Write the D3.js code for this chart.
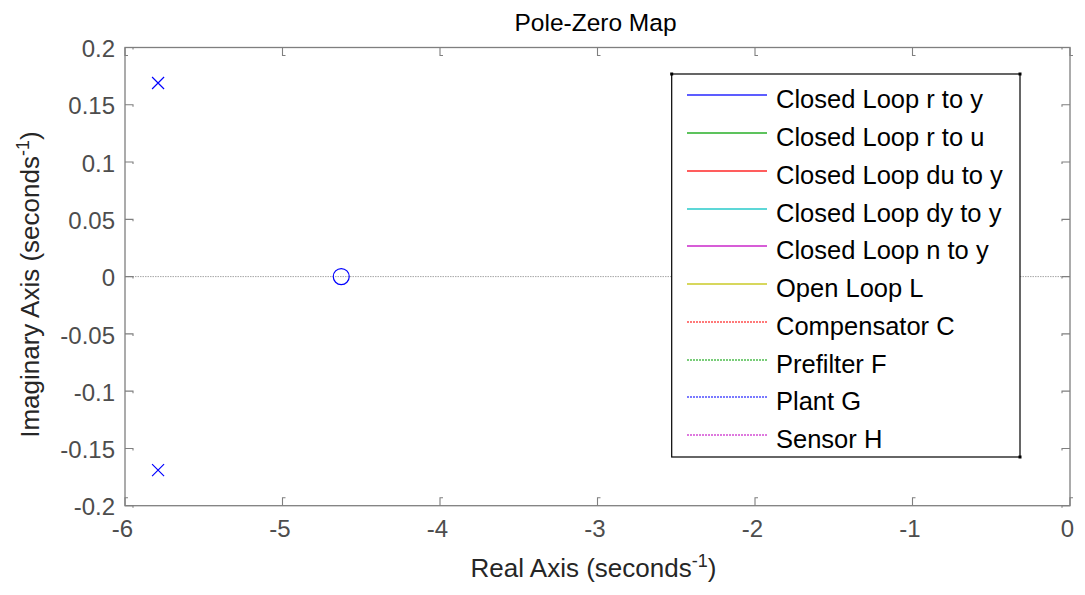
<!DOCTYPE html>
<html>
<head>
<meta charset="utf-8">
<script src="https://cdn.jsdelivr.net/npm/d3@7"></script>
<style>
  html, body { margin: 0; padding: 0; background: #fff; }
  svg { display: block; font-family: "Liberation Sans", Arial, sans-serif; }
</style>
</head>
<body>
<svg id="chart" width="1085" height="595"></svg>
<script>
// Pole-zero data (real, imaginary)
const poles = [
  { re: -5.79, im: 0.169 },
  { re: -5.79, im: -0.169 }
];
const zeros = [
  { re: -4.627, im: 0 }
];

// Axis ticks
const xTicks = [-6, -5, -4, -3, -2, -1, 0];
const yTicks = [-0.2, -0.15, -0.1, -0.05, 0, 0.05, 0.1, 0.15, 0.2];

// Legend entries
const legendLabels = [
  "Closed Loop r to y", "Closed Loop r to u", "Closed Loop du to y",
  "Closed Loop dy to y", "Closed Loop n to y", "Open Loop L",
  "Compensator C", "Prefilter F", "Plant G", "Sensor H"
];
const legendColors = [
  "#0000ff", "#00a000", "#ff0000", "#00bfbf", "#bf00bf", "#bfbf00",
  "#ff0000", "#00a000", "#0000ff", "#bf00bf"
];
const legendDotted = [false, false, false, false, false, false, true, true, true, true];

(function draw() {
  const svg = d3.select("#chart");
  const pL = 125, pR = 1070, pT = 47.5, pB = 505.7;

  const x = d3.scaleLinear().domain([-6, 0]).range([pL, pR]);
  const y = d3.scaleLinear().domain([-0.2, 0.2]).range([pB, pT]);

  const axisColor = "#7f7f7f";
  const tickTextColor = "#4d4d4d";

  // Zero line on the real axis
  svg.append("line")
    .attr("x1", pL).attr("x2", pR)
    .attr("y1", y(0)).attr("y2", y(0))
    .attr("stroke", "#a6a6a6").attr("stroke-width", 1)
    .attr("stroke-dasharray", "1.5,1");

  // Axis frame
  svg.append("rect")
    .attr("x", pL).attr("y", pT)
    .attr("width", pR - pL).attr("height", pB - pT)
    .attr("fill", "none").attr("stroke", axisColor).attr("stroke-width", 1.3);

  // Ticks on all four sides
  const tk = 8;
  const tickG = svg.append("g").attr("stroke", axisColor).attr("stroke-width", 1.1).attr("fill", "none");
  xTicks.forEach(v => {
    const px = x(v);
    tickG.append("path").attr("d", `M${px},${pB}V${pB - tk}h3`);
    tickG.append("path").attr("d", `M${px},${pT}V${pT + tk}h3`);
  });
  yTicks.forEach(v => {
    const py = y(v);
    tickG.append("path").attr("d", `M${pL},${py}H${pL + tk}v2`);
    tickG.append("path").attr("d", `M${pR},${py}H${pR - tk}v2`);
  });

  // Tick labels via D3 axes (domain and tick lines hidden); plain hyphen minus sign
  const xAxis = d3.axisBottom(x).tickValues(xTicks).tickSize(0).tickPadding(0).tickFormat(v => String(v));
  const gx = svg.append("g").attr("transform", `translate(0,${pB})`).call(xAxis);
  gx.select(".domain").remove();
  gx.selectAll("text")
    .attr("y", 31).attr("dy", null).attr("dx", -3)
    .attr("font-size", 24).attr("font-family", "Liberation Sans, Arial, sans-serif")
    .attr("fill", tickTextColor);

  const yFmt = v => (Math.abs(v) < 1e-9 ? "0" : String(+v.toFixed(2)));
  const yAxis = d3.axisLeft(y).tickValues(yTicks).tickSize(0).tickPadding(0).tickFormat(yFmt);
  const gy = svg.append("g").attr("transform", `translate(${pL},0)`).call(yAxis);
  gy.select(".domain").remove();
  gy.selectAll("text")
    .attr("x", -10).attr("dy", "0.38em")
    .attr("font-size", 24).attr("font-family", "Liberation Sans, Arial, sans-serif")
    .attr("fill", tickTextColor);

  // Title
  svg.append("text")
    .attr("x", (pL + pR) / 2 - 2).attr("y", 31)
    .attr("text-anchor", "middle").attr("font-size", 24.5).attr("fill", "#000")
    .text("Pole-Zero Map");

  // X axis label with superscript
  const xl = svg.append("text")
    .attr("x", (pL + pR) / 2 - 4).attr("y", 577)
    .attr("text-anchor", "middle").attr("font-size", 26).attr("fill", "#262626");
  xl.append("tspan").text("Real Axis (seconds");
  xl.append("tspan").attr("font-size", 18).attr("dy", -10).text("-1");
  xl.append("tspan").attr("dy", 10).text(")");

  // Y axis label with superscript
  const yl = svg.append("text")
    .attr("transform", `translate(39,${(pT + pB) / 2 + 8}) rotate(-90)`)
    .attr("text-anchor", "middle").attr("font-size", 26).attr("fill", "#262626");
  yl.append("tspan").text("Imaginary Axis (seconds");
  yl.append("tspan").attr("font-size", 18).attr("dy", -10).text("-1");
  yl.append("tspan").attr("dy", 10).text(")");

  // Poles (x markers)
  const ps = 6;
  svg.append("g").selectAll("path").data(poles).join("path")
    .attr("d", d => {
      const cx = x(d.re), cy = y(d.im);
      return `M${cx - ps},${cy - ps}L${cx + ps},${cy + ps}M${cx - ps},${cy + ps}L${cx + ps},${cy - ps}`;
    })
    .attr("stroke", "#0000ff").attr("stroke-width", 1.2).attr("fill", "none");

  // Zeros (circle markers)
  svg.append("g").selectAll("circle").data(zeros).join("circle")
    .attr("cx", d => x(d.re)).attr("cy", d => y(d.im)).attr("r", 8)
    .attr("stroke", "#0000ff").attr("stroke-width", 1.2).attr("fill", "none");

  // Legend
  const lg = { x0: 671.7, y0: 74, x1: 1020, y1: 457 };
  const legend = svg.append("g");
  legend.append("rect")
    .attr("x", lg.x0).attr("y", lg.y0)
    .attr("width", lg.x1 - lg.x0).attr("height", lg.y1 - lg.y0)
    .attr("fill", "#fff").attr("stroke", "#000").attr("stroke-width", 1.2);
  [[lg.x0, lg.y0], [lg.x1, lg.y0], [lg.x1, lg.y1]].forEach(([cx, cy]) => {
    legend.append("rect").attr("x", cx - 1.5).attr("y", cy - 1.5).attr("width", 3).attr("height", 3).attr("fill", "#000");
  });
  const rowY = d3.scaleLinear().domain([0, 9]).range([95.3, 435]);
  const lineY = i => Math.round(rowY(i));
  const rows = legend.selectAll("g.row").data(legendLabels).join("g").attr("class", "row");
  rows.append("line")
    .attr("x1", 687).attr("x2", 767)
    .attr("y1", (d, i) => lineY(i)).attr("y2", (d, i) => lineY(i))
    .attr("stroke", (d, i) => legendColors[i]).attr("stroke-width", 1.6)
    .attr("stroke-opacity", (d, i) => legendDotted[i] ? 0.7 : 0.85)
    .attr("stroke-dasharray", (d, i) => legendDotted[i] ? "2,1" : null);
  rows.append("text")
    .attr("x", 776).attr("y", (d, i) => rowY(i) + 13)
    .attr("font-size", 25.5).attr("fill", "#000")
    .text(d => d);
})();
</script>
</body>
</html>
